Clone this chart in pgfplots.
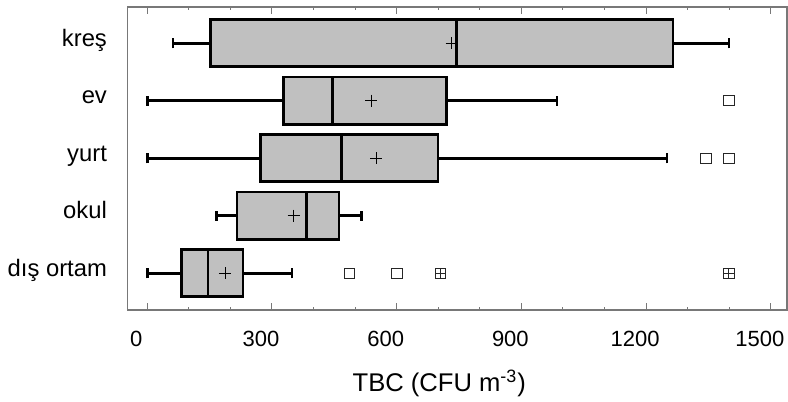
\documentclass[border=0pt]{standalone}
\usepackage{fontspec}
\setmainfont{Liberation Sans}
\usepackage{pgfplots}
\pgfplotsset{compat=1.18}
\usepgfplotslibrary{statistics}
\definecolor{boxgray}{RGB}{192,192,192}
\definecolor{framegray}{RGB}{120,120,120}

\begin{document}
\begin{tikzpicture}
\begin{axis}[
    scale only axis,
    width=329.65pt, height=151.5pt,
    xmin=-47, xmax=1539,
    ymin=-0.64, ymax=4.63,
    xtick={0,300,...,1500},
    minor x tick num=2,
    ytick={0,1,2,3,4},
    yticklabels={dış ortam, okul, yurt, ev, kreş},
    tick align=inside,
    xtick pos=both,
    ytick style={draw=none},
    major tick length=3.5pt,
    minor tick length=1.7pt,
    tick style={color=framegray, line width=0.5pt},
    axis line style={color=framegray, line width=0.6pt},
    /pgf/number format/assume math mode=true,
    /pgf/number format/1000 sep={},
    xticklabel style={font=\fontsize{11}{13}\selectfont, anchor=base, xshift=-5.5pt, yshift=-18.35pt},
    yticklabel style={font=\fontsize{11.9}{14}\selectfont, anchor=base east, inner sep=0pt, xshift=-10.2pt, yshift=-1.5pt},
    xlabel={TBC (CFU m\textsuperscript{-3})},
    xlabel style={font=\fontsize{12.8}{15}\selectfont, at={(axis description cs:0.4726,0)}, anchor=base, yshift=-40.5pt},
    boxplot/box extend=0.82,
    boxplot/whisker extend=0.18,
    boxplot/every box/.style={draw=black, line width=1.3pt, fill=boxgray},
    boxplot/every median/.style={draw=black, line width=1.3pt},
    boxplot/every whisker/.style={draw=black, line width=1.3pt},
    boxplot/every average/.style={/tikz/mark=+, /tikz/mark size=3pt, /tikz/mark options={black, line width=0.5pt}},
]
% dış ortam
\addplot[black, boxplot prepared={draw position=0, lower whisker=0, lower quartile=82, median=146, average=187, upper quartile=230, upper whisker=348}] coordinates {};
% okul
\addplot[black, boxplot prepared={draw position=1, lower whisker=167, lower quartile=216, median=383, average=352, upper quartile=461, upper whisker=516}] coordinates {};
% yurt
\addplot[black, boxplot prepared={draw position=2, lower whisker=0, lower quartile=273, median=468, average=551, upper quartile=699, upper whisker=1250}] coordinates {};
% ev
\addplot[black, boxplot prepared={draw position=3, lower whisker=0, lower quartile=328, median=445, average=539, upper quartile=720, upper whisker=986}] coordinates {};
% kreş
\addplot[black, boxplot prepared={draw position=4, lower whisker=62, lower quartile=152, median=744, average=732, upper quartile=1265, upper whisker=1399}] coordinates {};
% outliers
\addplot[only marks, mark=square, mark size=2.6pt, mark options={black!85, line width=0.5pt}] coordinates {(1399,3) (1344,2) (1399,2) (487,0) (601,0) (706,0) (1399,0)};
\addplot[only marks, mark=+, mark size=2.6pt, mark options={black!85, line width=0.5pt}] coordinates {(706,0) (1399,0)};
\end{axis}
\pgfresetboundingbox
\path ([shift={(-63.85pt,-46pt)}]current axis.south west) rectangle ([shift={(0.5pt,3.5pt)}]current axis.north east);
\end{tikzpicture}
\end{document}
